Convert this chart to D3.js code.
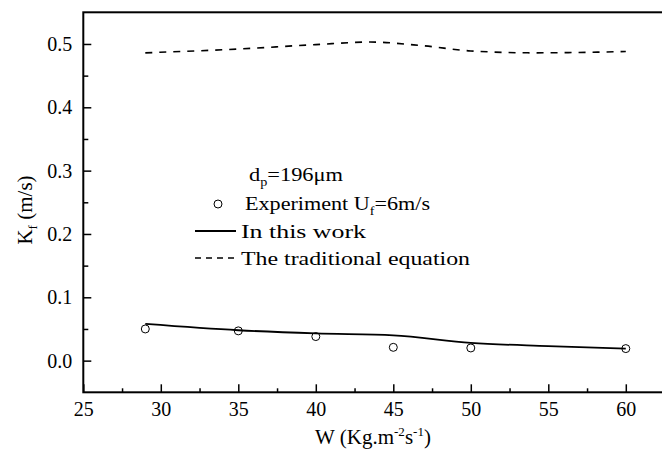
<!DOCTYPE html>
<html>
<head>
<meta charset="utf-8">
<script src="https://cdn.jsdelivr.net/npm/d3@7"></script>
<style>
  body { margin: 0; background: #fff; }
  svg { display: block; }
</style>
</head>
<body>
<svg width="662" height="454"></svg>
<script>
// experiment points (circles)
var expW = [29, 35, 40, 45, 50, 60];
var expK = [0.050, 0.047, 0.038, 0.021, 0.020, 0.019];

// model "In this work" (solid)
var workW = [29, 35, 40, 45, 50, 55, 60];
var workK = [0.058, 0.048, 0.043, 0.040, 0.028, 0.023, 0.019];

// traditional equation (dashed)
var tradW = [29, 35, 40, 43.5, 47, 50, 54, 60];
var tradK = [0.486, 0.492, 0.499, 0.503, 0.497, 0.489, 0.486, 0.488];

var xTicks = [25, 30, 35, 40, 45, 50, 55, 60];
var yTicks = [0.0, 0.1, 0.2, 0.3, 0.4, 0.5];

var serif = "'Liberation Serif'";

var svg = d3.select("svg");
var margin = {left: 83.3, top: 12.3};

var x = d3.scaleLinear().domain([25, 62.4]).range([margin.left, 663]);
var y = d3.scaleLinear().domain([-0.05, 0.55]).range([392.3, margin.top]);

//  axes with inward ticks
var xAxis = d3.axisBottom(x).tickValues(xTicks).tickSize(-8).tickPadding(10)
  .tickFormat(d3.format("d"));
var xMinor = d3.axisBottom(x).tickValues(d3.range(27.5, 62, 5)).tickSize(-4).tickFormat("");
var yAxis = d3.axisLeft(y).tickValues(yTicks).tickSize(-8).tickPadding(11)
  .tickFormat(d3.format(".1f"));
var yMinor = d3.axisLeft(y).tickValues([0.05, 0.15, 0.25, 0.35, 0.45]).tickSize(-5).tickFormat("");

function styleAxis(g) {
  g.select(".domain").remove();
  g.selectAll(".tick line").attr("stroke", "#000").attr("stroke-width", 1.5);
  g.selectAll(".tick text").style("font-family", serif).style("font-size", "20px").attr("fill", "#000");
}

svg.append("g").attr("transform", "translate(0," + y.range()[0] + ")").call(xAxis).call(styleAxis);
svg.append("g").attr("transform", "translate(0," + y.range()[0] + ")").call(xMinor).call(styleAxis);
svg.append("g").attr("transform", "translate(" + margin.left + ",0)").call(yAxis).call(styleAxis);
svg.append("g").attr("transform", "translate(" + margin.left + ",0)").call(yMinor).call(styleAxis);

//  frame
svg.append("rect")
  .attr("x", margin.left).attr("y", margin.top)
  .attr("width", 663 - margin.left + 5).attr("height", y.range()[0] - margin.top)
  .attr("fill", "none").attr("stroke", "#000").attr("stroke-width", 2);

//  lines
var line = d3.line()
  .x(function(d) { return x(d[0]); })
  .y(function(d) { return y(d[1]); })
  .curve(d3.curveMonotoneX);

svg.append("path")
  .datum(workW.map(function(w, i) { return [w, workK[i]]; }))
  .attr("d", line)
  .attr("fill", "none").attr("stroke", "#000").attr("stroke-width", 1.8);

svg.append("path")
  .datum(tradW.map(function(w, i) { return [w, tradK[i]]; }))
  .attr("d", line)
  .attr("fill", "none").attr("stroke", "#000").attr("stroke-width", 1.6)
  .attr("stroke-dasharray", "7,7");

svg.append("g").selectAll("circle")
  .data(expW.map(function(w, i) { return [w, expK[i]]; }))
  .enter().append("circle")
    .attr("cx", function(d) { return x(d[0]); })
    .attr("cy", function(d) { return y(d[1]); })
    .attr("r", 4)
    .attr("fill", "none").attr("stroke", "#000").attr("stroke-width", 1);

//  axis titles
var xt = svg.append("text")
  .attr("x", 373).attr("y", 444)
  .attr("text-anchor", "middle").style("font-family", serif).style("font-size", "21px");
xt.append("tspan").text("W (Kg.m");
xt.append("tspan").style("font-size", "13px").attr("dy", -8).text("-2");
xt.append("tspan").attr("dy", 8).text("s");
xt.append("tspan").style("font-size", "13px").attr("dy", -8).text("-1");
xt.append("tspan").attr("dy", 8).text(")");

var yt = svg.append("text")
  .attr("transform", "translate(32,210) rotate(-90)")
  .attr("text-anchor", "middle").style("font-family", serif).style("font-size", "21px");
yt.append("tspan").text("K");
yt.append("tspan").style("font-size", "13px").attr("dy", 5).text("f");
yt.append("tspan").attr("dy", -5).text(" (m/s)");

//  legend (text is stretched horizontally in the reference)
var lg = svg.append("g");
function legendText(x0, x1, yp) {
  return lg.append("text")
    .attr("x", x0).attr("y", yp)
    .attr("textLength", x1 - x0).attr("lengthAdjust", "spacingAndGlyphs")
    .style("font-family", serif).style("font-size", "19px");
}

var t1 = legendText(249, 343, 181);
t1.append("tspan").text("d");
t1.append("tspan").style("font-size", "12px").attr("dy", 5).text("p");
t1.append("tspan").attr("dy", -5).text("=196μm");

lg.append("circle").attr("cx", 218).attr("cy", 204).attr("r", 4)
  .attr("fill", "none").attr("stroke", "#000");
var t2 = legendText(245, 430, 210);
t2.append("tspan").text("Experiment U");
t2.append("tspan").style("font-size", "12px").attr("dy", 5).text("f");
t2.append("tspan").attr("dy", -5).text("=6m/s");

lg.append("line").attr("x1", 195).attr("x2", 236).attr("y1", 231).attr("y2", 231)
  .attr("stroke", "#000").attr("stroke-width", 1.8);
legendText(241, 366, 238).text("In this work");

lg.append("line").attr("x1", 195).attr("x2", 236).attr("y1", 258).attr("y2", 258)
  .attr("stroke", "#000").attr("stroke-width", 1.6).attr("stroke-dasharray", "6,5");
legendText(241, 470, 265).text("The traditional equation");
</script>
</body>
</html>
